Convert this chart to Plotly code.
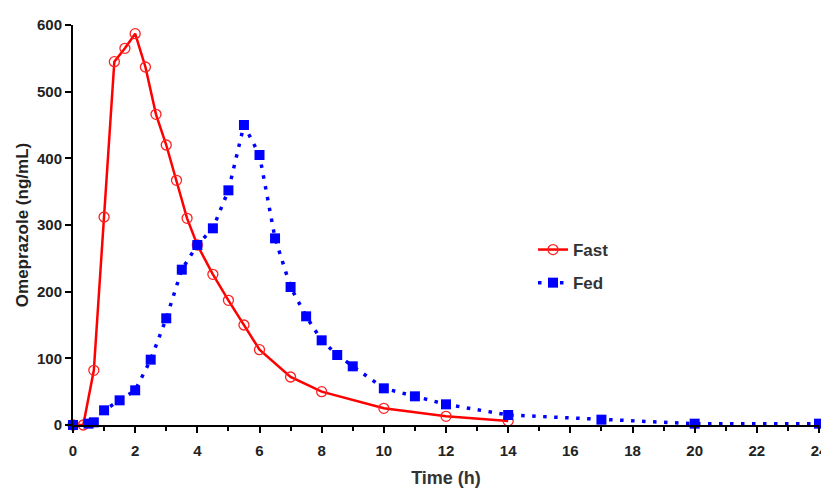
import plotly.graph_objects as go

fast_t = [0, 0.33, 0.67, 1, 1.33, 1.67, 2, 2.33, 2.67, 3, 3.33, 3.67, 4, 4.5, 5, 5.5, 6, 7, 8, 10, 12, 14]
fast_c = [0, 0, 82, 312, 545, 565, 587, 537, 466, 420, 367, 310, 270, 226, 187, 150, 113, 72, 50, 25, 13, 6]

fed_t = [0, 0.5, 0.67, 1, 1.5, 2, 2.5, 3, 3.5, 4, 4.5, 5, 5.5, 6, 6.5, 7, 7.5, 8, 8.5, 9, 10, 11, 12, 14, 17, 20, 24]
fed_c = [0, 2, 4, 22, 37, 52, 98, 160, 233, 270, 295, 352, 450, 405, 280, 207, 163, 127, 105, 88, 55, 43, 31, 15, 8, 2, 2]

x_ticks = list(range(0, 25, 2))
y_ticks = [0, 100, 200, 300, 400, 500, 600]

fig = go.Figure()
fig.add_trace(go.Scatter(
    x=fast_t, y=fast_c, name="Fast", mode="lines+markers", legendgroup="a",
    line=dict(color="#ff0000", width=2.5),
    marker=dict(symbol="circle-open", size=10, color="#ff2020", line=dict(width=1.3)),
    cliponaxis=False,
))
fig.add_trace(go.Scatter(
    x=fed_t, y=fed_c, name="Fed", mode="lines+markers", legendgroup="b",
    line=dict(color="#0000ff", width=3.5, dash="3.5px,7.5px"),
    marker=dict(symbol="square", size=10, color="#0000ff"),
    cliponaxis=False,
))

axis_font = dict(family="Arial", size=15, color="#222222", weight="bold")
fig.update_layout(
    width=821, height=481,
    margin=dict(l=65, r=10, t=17, b=64),
    plot_bgcolor="white", paper_bgcolor="white",
    showlegend=True,
    legend=dict(x=0.6166, y=0.4825, xanchor="left", yanchor="top",
                font=dict(family="Arial", size=17, color="#333333", weight="bold"),
                bgcolor="rgba(0,0,0,0)", tracegroupgap=8, itemwidth=30),
    xaxis=dict(range=[0, 24], tickvals=x_ticks, ticktext=[str(v) for v in x_ticks],
               automargin=False,
               showgrid=False, zeroline=False, showline=True, linecolor="black", linewidth=2,
               ticks="outside", ticklen=6, tickwidth=2, tickcolor="black", ticklabelstandoff=5,
               minor=dict(dtick=1, ticks="outside", ticklen=4, tickwidth=2, tickcolor="black"),
               tickfont=axis_font,
               title=dict(text="Time (h)", font=dict(family="Arial", size=18, color="#333333", weight="bold"), standoff=13)),
    yaxis=dict(range=[0, 600], tickvals=y_ticks, ticktext=[str(v) for v in y_ticks],
               automargin=False,
               showgrid=False, zeroline=False, showline=True, linecolor="black", linewidth=2,
               ticks="outside", ticklen=6, tickwidth=2, tickcolor="black",
               tickfont=axis_font,
               title=dict(text="Omeprazole (ng/mL)", font=dict(family="Arial", size=17, color="#222222", weight="bold"), standoff=4)),
)

fig.write_html("out.html")
